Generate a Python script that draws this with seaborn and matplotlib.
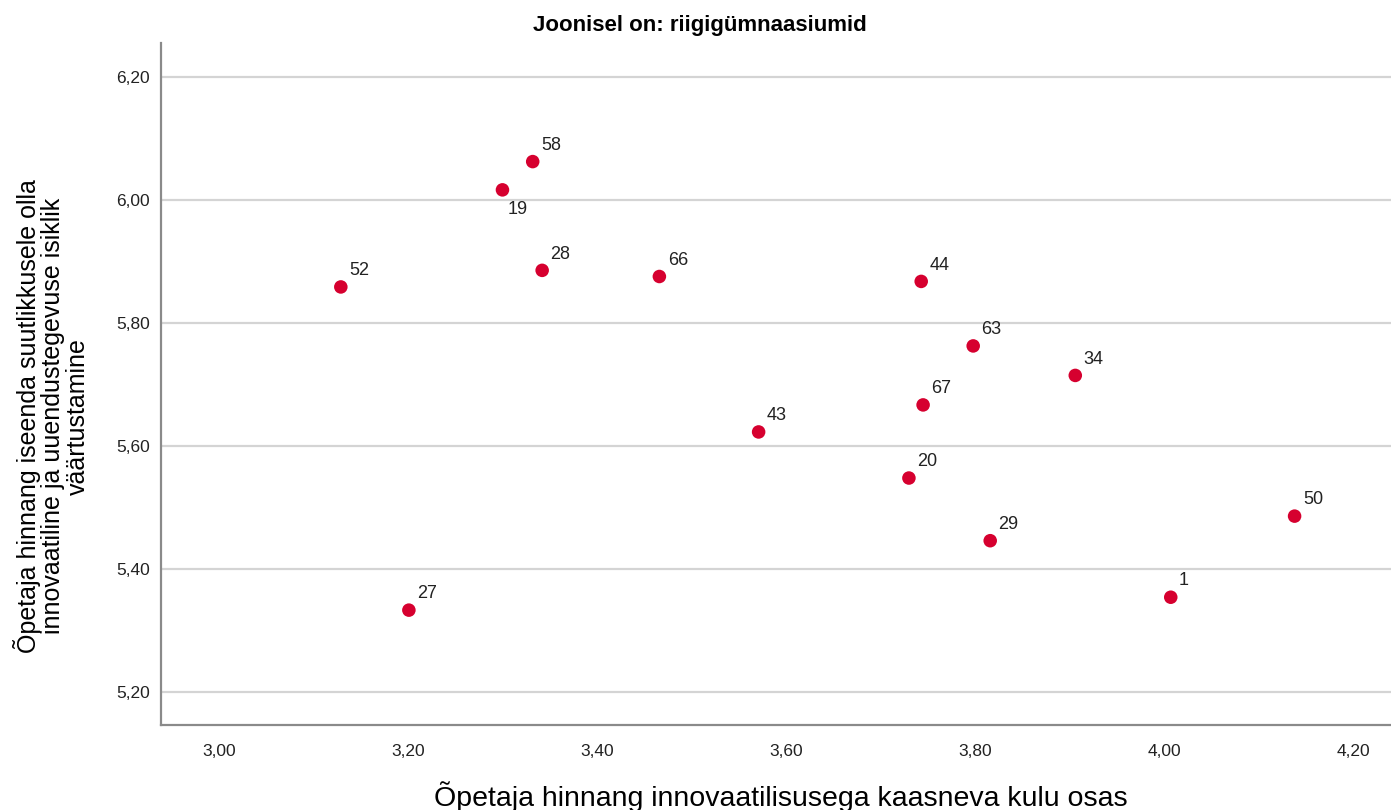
import matplotlib
matplotlib.use("Agg")
import matplotlib.pyplot as plt
import seaborn as sns
import pandas as pd

# school ids and the two scale means
ids = ["52", "27", "19", "58", "28", "66", "43", "44", "63", "67", "20", "29", "34", "1", "50"]
kulu = [3.129, 3.201, 3.300, 3.332, 3.342, 3.466, 3.571, 3.743, 3.798, 3.745, 3.730, 3.816, 3.906, 4.007, 4.138]
suutlikkus = [5.859, 5.333, 6.017, 6.063, 5.886, 5.876, 5.623, 5.868, 5.763, 5.667, 5.548, 5.446, 5.715, 5.354, 5.486]

x_ticks = [3.00, 3.20, 3.40, 3.60, 3.80, 4.00, 4.20]
y_ticks = [5.20, 5.40, 5.60, 5.80, 6.00, 6.20]

df = pd.DataFrame({"id": ids, "kulu": kulu, "suutlikkus": suutlikkus})

sns.set_style("white")
plt.rcParams["font.family"] = ["Liberation Sans", "DejaVu Sans"]

fig = plt.figure(figsize=(13.91, 8.10), dpi=100)
ax = fig.add_axes([0.1157, 0.1049, 0.8843, 0.842])

sns.scatterplot(data=df, x="kulu", y="suutlikkus", ax=ax, color="#d6002f",
                s=95, edgecolor="none", zorder=3)

for i, row in df.iterrows():
    if row["id"] == "19":
        ax.annotate(row["id"], (row["kulu"], row["suutlikkus"]), xytext=(4, -8),
                    textcoords="offset points", ha="left", va="top", fontsize=13, color="#222222")
    else:
        ax.annotate(row["id"], (row["kulu"], row["suutlikkus"]), xytext=(6, 8.5),
                    textcoords="offset points", ha="left", va="baseline", fontsize=13, color="#222222")

ax.set_xlim(2.9387, 4.240)
ax.set_ylim(5.146, 6.256)
ax.set_xticks(x_ticks)
ax.set_yticks(y_ticks)
ax.set_xticklabels([f"{t:.2f}".replace(".", ",") for t in x_ticks])
ax.set_yticklabels([f"{t:.2f}".replace(".", ",") for t in y_ticks])
ax.tick_params(axis="both", length=0, labelsize=12.5, labelcolor="#222222")
ax.tick_params(axis="x", pad=14)
ax.tick_params(axis="y", pad=8)

ax.yaxis.grid(True, color="#d4d4d4", linewidth=1.6)
ax.xaxis.grid(False)
for side in ["top", "right"]:
    ax.spines[side].set_visible(False)
for side in ["left", "bottom"]:
    ax.spines[side].set_color("#8a8a8a")
    ax.spines[side].set_linewidth(1.6)

ax.set_xlabel("")
ax.set_ylabel("")
fig.text(0.561, 0.016, "Õpetaja hinnang innovaatilisusega kaasneva kulu osas",
         ha="center", va="center", fontsize=20.5, color="black")
fig.text(0.037, 0.486,
         "Õpetaja hinnang iseenda suutlikkusele olla\ninnovaatiline ja uuendustegevuse isiklik\nväärtustamine",
         ha="center", va="center", rotation=90, multialignment="center",
         fontsize=18, linespacing=1.0, color="black")
fig.text(0.503, 0.969, "Joonisel on: riigigümnaasiumid", ha="center", va="center",
         fontsize=16, fontweight="bold", color="black")

fig.savefig("out.png", dpi=100)
